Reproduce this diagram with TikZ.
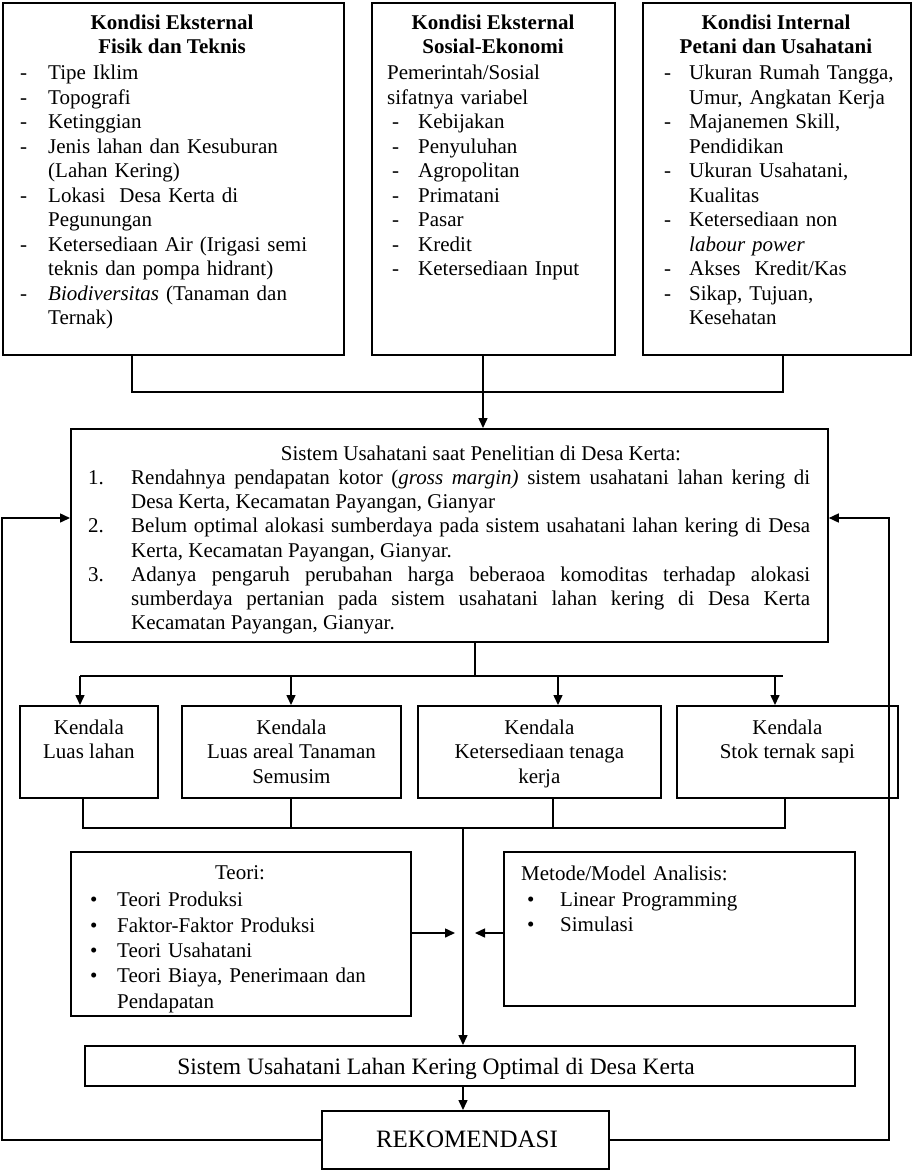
\documentclass[tikz,border=0pt]{standalone}
\usepackage{fontspec}
\setmainfont{Liberation Serif}
\usetikzlibrary{arrows.meta,positioning}

\newcommand{\bodyfont}{\fontsize{21}{24.5}\selectfont}
\newcommand{\litem}[3]{\par\noindent\hangindent=#1\hangafter=1\strut\makebox[#1][l]{#2}#3\par}

\begin{document}
\begin{tikzpicture}[x=1pt, y=-1pt,
  box/.style={draw, line width=1.8pt, inner sep=0pt, anchor=north west},
  link/.style={line width=1.5pt},
  arr/.style={link, -{Triangle[length=10pt, width=9pt]}},
  headtxt/.style={inner sep=0pt, anchor=north, align=center, font=\bodyfont\bfseries},
  listtxt/.style={inner sep=0pt, anchor=north west, align=left, font=\bodyfont},
  boxtxt/.style={inner sep=0pt, anchor=north, align=center, font=\bodyfont}]
  \useasboundingbox (0,0) rectangle (912,1170);

  % kondisi
  \node[box, minimum width=341pt, minimum height=352pt] (fisik) at (2,2) {};
  \node[box, minimum width=243pt, minimum height=352pt] (sosial) at (371,2) {};
  \node[box, minimum width=268pt, minimum height=352pt] (internal) at (642,2) {};

  \node[headtxt] (fisikhead) at (172,12) {\strut Kondisi Eksternal\\Fisik dan Teknis};
  \node[headtxt] (sosialhead) at (493,12) {\strut Kondisi Eksternal\\Sosial-Ekonomi};
  \node[headtxt] (internalhead) at (776,12) {\strut Kondisi Internal\\Petani dan Usahatani};

  \node[listtxt, text width=318pt] (fisiklist) at (20,55) {%
    \litem{28pt}{-}{Tipe Iklim}
    \litem{28pt}{-}{Topografi}
    \litem{28pt}{-}{Ketinggian}
    \litem{28pt}{-}{Jenis lahan dan Kesuburan\newline (Lahan Kering)}
    \litem{28pt}{-}{Lokasi\ \ Desa Kerta di\newline Pegunungan}
    \litem{28pt}{-}{Ketersediaan Air (Irigasi semi\newline teknis dan pompa hidrant)}
    \litem{28pt}{-}{\textit{Biodiversitas} (Tanaman dan\newline Ternak)}};

  \node[listtxt, text width=222pt] (sosiallist) at (387,55) {%
    \litem{0pt}{}{Pemerintah/Sosial}
    \litem{0pt}{}{sifatnya variabel}
    \litem{31pt}{\hspace{5pt}-}{Kebijakan}
    \litem{31pt}{\hspace{5pt}-}{Penyuluhan}
    \litem{31pt}{\hspace{5pt}-}{Agropolitan}
    \litem{31pt}{\hspace{5pt}-}{Primatani}
    \litem{31pt}{\hspace{5pt}-}{Pasar}
    \litem{31pt}{\hspace{5pt}-}{Kredit}
    \litem{31pt}{\hspace{5pt}-}{Ketersediaan Input}};

  \node[listtxt, text width=242pt] (internallist) at (664,55) {%
    \litem{25pt}{-}{Ukuran Rumah Tangga,\newline Umur, Angkatan Kerja}
    \litem{25pt}{-}{Majanemen Skill,\newline Pendidikan}
    \litem{25pt}{-}{Ukuran Usahatani,\newline Kualitas}
    \litem{25pt}{-}{Ketersediaan non\newline \textit{labour power}}
    \litem{25pt}{-}{Akses\ \ Kredit/Kas}
    \litem{25pt}{-}{Sikap, Tujuan,\newline Kesehatan}};

  % sistem saat penelitian
  \node[box, minimum width=757pt, minimum height=213pt] (masalah) at (70,428) {};
  \node[boxtxt] (masalahhead) at (481,443) {\strut Sistem Usahatani saat Penelitian di Desa Kerta:};
  \node[listtxt, text width=722pt, align=justify, font=\fontsize{21}{24.2}\selectfont] (masalahlist) at (88,460) {%
    \litem{43pt}{1.}{Rendahnya pendapatan kotor (\textit{gross margin)} sistem usahatani lahan kering di\linebreak Desa Kerta, Kecamatan Payangan, Gianyar}
    \litem{43pt}{2.}{Belum optimal alokasi sumberdaya pada sistem usahatani lahan kering di Desa\linebreak Kerta, Kecamatan Payangan, Gianyar.}
    \litem{43pt}{3.}{Adanya pengaruh perubahan harga beberaoa komoditas terhadap alokasi\linebreak sumberdaya pertanian pada sistem usahatani lahan kering di Desa Kerta\linebreak Kecamatan Payangan, Gianyar.}};

  \coordinate (fisikout) at (132,392);
  \coordinate (internalout) at (783,392);
  \coordinate (sosialout) at (483,392);
  \draw[link] (fisik.south -| fisikout) -- (fisikout) -- (internalout) -- (internal.south -| internalout);
  \draw[arr] (sosial.south -| sosialout) -- (masalah.north -| sosialout);

  % kendala
  \node[box, minimum width=138pt, minimum height=92pt] (k1) at (19,705) {};
  \node[box, minimum width=219pt, minimum height=92pt] (k2) at (181,705) {};
  \node[box, minimum width=243pt, minimum height=92pt] (k3) at (417,705) {};
  \node[box, minimum width=221pt, minimum height=92pt] (k4) at (676,705) {};
  \node[boxtxt] (k1txt) at (k1.north) [yshift=-12pt] {\strut Kendala\\Luas lahan};
  \node[boxtxt] (k2txt) at (k2.north) [yshift=-12pt] {\strut Kendala\\Luas areal Tanaman\\Semusim};
  \node[boxtxt] (k3txt) at (k3.north) [yshift=-12pt] {\strut Kendala\\Ketersediaan tenaga\\kerja};
  \node[boxtxt] (k4txt) at (k4.north) [yshift=-12pt] {\strut Kendala\\Stok ternak sapi};

  \coordinate (split) at (475,676);
  \coordinate (a1) at (80,676);
  \coordinate (a2) at (291,676);
  \coordinate (a3) at (558,676);
  \coordinate (a4) at (775,676);
  \coordinate (aend) at (783,676);
  \draw[link] (masalah.south -| split) -- (split);
  \draw[link] (a1) -- (aend);
  \draw[arr] (a1) -- (k1.north -| a1);
  \draw[arr] (a2) -- (k2.north -| a2);
  \draw[arr] (a3) -- (k3.north -| a3);
  \draw[arr] (a4) -- (k4.north -| a4);

  \coordinate (b1) at (83,828);
  \coordinate (b2) at (291,828);
  \coordinate (b3) at (553,828);
  \coordinate (b4) at (785,828);
  \coordinate (join) at (463,828);
  \draw[link] (k1.south -| b1) -- (b1) -- (b4) -- (k4.south -| b4);
  \draw[link] (k2.south -| b2) -- (b2);
  \draw[link] (k3.south -| b3) -- (b3);

  % teori dan metode
  \node[box, minimum width=340pt, minimum height=164pt] (teori) at (70,851) {};
  \node[box, minimum width=351pt, minimum height=154pt] (metode) at (503,851) {};
  \node[boxtxt] (teorihead) at (240,862) {\strut Teori:};
  \node[listtxt, text width=315pt, font=\fontsize{21}{25.4}\selectfont] (teorilist) at (88,881) {%
    \litem{29pt}{\hspace{2pt}\textbullet}{Teori Produksi}
    \litem{29pt}{\hspace{2pt}\textbullet}{Faktor-Faktor Produksi}
    \litem{29pt}{\hspace{2pt}\textbullet}{Teori Usahatani}
    \litem{29pt}{\hspace{2pt}\textbullet}{Teori Biaya, Penerimaan dan\newline Pendapatan}};
  \node[listtxt, text width=325pt, font=\fontsize{21}{25.4}\selectfont] (metodelist) at (521,855) {%
    \litem{0pt}{}{Metode/Model Analisis:}
    \litem{39pt}{\hspace{6pt}\textbullet}{Linear Programming}
    \litem{39pt}{\hspace{6pt}\textbullet}{Simulasi}};

  \coordinate (tin) at (455,933);
  \coordinate (min) at (475,933);
  \draw[arr] (teori.east |- tin) -- (tin);
  \draw[arr] (metode.west |- min) -- (min);

  % hasil
  \node[box, minimum width=770pt, minimum height=40pt] (optimal) at (84,1045) {};
  \node[inner sep=0pt, anchor=base, font=\fontsize{23.5}{26}\selectfont] (optimaltxt) at (436,1074) {Sistem Usahatani Lahan Kering Optimal di Desa Kerta};
  \node[box, minimum width=287pt, minimum height=58pt] (rekom) at (321,1110) {};
  \node[inner sep=0pt, anchor=base, font=\fontsize{25}{28}\selectfont] (rekomtxt) at (467,1147) {REKOMENDASI};

  \draw[arr] (join) -- (optimal.north -| join);
  \draw[arr] (optimal.south -| join) -- (rekom.north -| join);

  % umpan balik
  \coordinate (fbl) at (2,1140);
  \coordinate (fbltop) at (2,518);
  \coordinate (fbr) at (889,1140);
  \coordinate (fbrtop) at (889,518);
  \draw[arr] (rekom.west |- fbl) -- (fbl) -- (fbltop) -- (masalah.west |- fbltop);
  \draw[arr] (rekom.east |- fbr) -- (fbr) -- (fbrtop) -- (masalah.east |- fbrtop);
\end{tikzpicture}
\end{document}
